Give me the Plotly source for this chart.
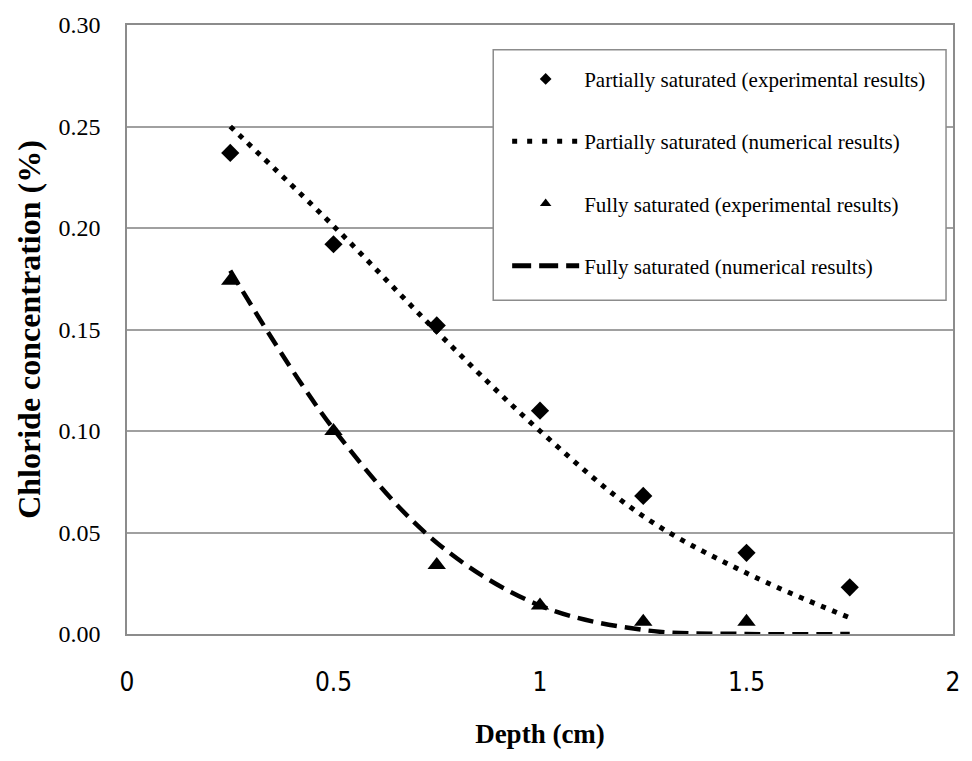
import plotly.graph_objects as go

depth = [0.25, 0.5, 0.75, 1.0, 1.25, 1.5, 1.75]
partial_exp = [0.237, 0.192, 0.152, 0.110, 0.068, 0.040, 0.023]
partial_num = [0.250, 0.201, 0.149, 0.100, 0.058, 0.030, 0.008]
full_exp_x = [0.25, 0.5, 0.75, 1.0, 1.25, 1.5]
full_exp = [0.174, 0.100, 0.034, 0.014, 0.006, 0.006]
full_num = [0.179, 0.101, 0.045, 0.014, 0.002, 0.0, 0.0]

names = [
    "Partially saturated (experimental results)",
    "Partially saturated (numerical results)",
    "Fully saturated (experimental results)",
    "Fully saturated (numerical results)",
]

SERIF = "Liberation Serif, Times New Roman, serif"
NARROW = "Liberation Sans Narrow, DejaVu Sans Condensed, Arial Narrow, Liberation Sans, sans-serif"

dot_line = dict(color="black", width=5, dash="5px,7px", shape="spline")
dash_line = dict(color="black", width=4.5, dash="16px,8px", shape="spline")

fig = go.Figure()
# data traces
fig.add_trace(go.Scatter(x=depth, y=partial_num, mode="lines", line=dot_line, showlegend=False))
fig.add_trace(go.Scatter(x=depth, y=full_num, mode="lines", line=dash_line, showlegend=False))
fig.add_trace(go.Scatter(x=depth, y=partial_exp, mode="markers", showlegend=False,
                         marker=dict(symbol="diamond", size=14, color="black")))
fig.add_trace(go.Scatter(x=full_exp_x, y=full_exp, mode="markers", showlegend=False,
                         marker=dict(symbol="triangle-up", size=16, color="black")))

# legend entries
fig.add_trace(go.Scatter(x=[None], y=[None], mode="markers", name=names[0], legendgroup="a",
                         marker=dict(symbol="diamond", size=9, color="black")))
fig.add_trace(go.Scatter(x=[None], y=[None], mode="lines", name=names[1], legendgroup="b",
                         line=dict(color="black", width=5, dash="5px,10px")))
fig.add_trace(go.Scatter(x=[None], y=[None], mode="markers", name=names[2], legendgroup="c",
                         marker=dict(symbol="triangle-up", size=10, color="black")))
fig.add_trace(go.Scatter(x=[None], y=[None], mode="lines", name=names[3], legendgroup="d",
                         line=dict(color="black", width=5, dash="19px,8px")))

L, R, T, B = 127, 15, 21, 127
pw = 972 - L - R
ph = 761 - T - B

# legend box
fig.add_shape(type="rect", xref="paper", yref="paper",
              x0=(495 - L) / pw, x1=(950 - L) / pw,
              y0=(634 - 298) / ph, y1=(634 - 46) / ph,
              line=dict(color="#8c8c8c", width=1.5), fillcolor="white", layer="above")

fig.update_layout(
    width=972, height=761,
    margin=dict(l=L, r=R, t=T, b=B),
    paper_bgcolor="white", plot_bgcolor="white",
    font=dict(family=SERIF, color="black"),
    legend=dict(x=(509 - L) / pw, y=(634 - 55) / ph, xanchor="left", yanchor="top",
                bgcolor="rgba(0,0,0,0)", borderwidth=0,
                font=dict(family=SERIF, size=21),
                itemwidth=67, traceorder="grouped", tracegroupgap=32),
    xaxis=dict(range=[0, 2], tickvals=[0, 0.5, 1, 1.5, 2], ticktext=["0", "0.5", "1", "1.5", "2"],
               showgrid=False, zeroline=False, showline=True, linecolor="#8c8c8c", linewidth=1.5,
               mirror=True, ticks="", ticklabelstandoff=24,
               tickfont=dict(family=NARROW, size=26),
               title=dict(text="<b>Depth (cm)</b>", standoff=28,
                          font=dict(family=SERIF, size=27))),
    yaxis=dict(range=[0, 0.30], tickvals=[0, 0.05, 0.10, 0.15, 0.20, 0.25, 0.30], tickformat=".2f",
               showgrid=True, gridcolor="#a0a0a0", gridwidth=1.5, zeroline=False,
               showline=True, linecolor="#8c8c8c", linewidth=1.5, mirror=True, ticks="",
               ticklabelstandoff=20,
               tickfont=dict(family=SERIF, size=24),
               title=dict(text="<b>Chloride concentration (%)</b>", standoff=8,
                          font=dict(family=SERIF, size=32))),
)

fig.write_html("out.html")
